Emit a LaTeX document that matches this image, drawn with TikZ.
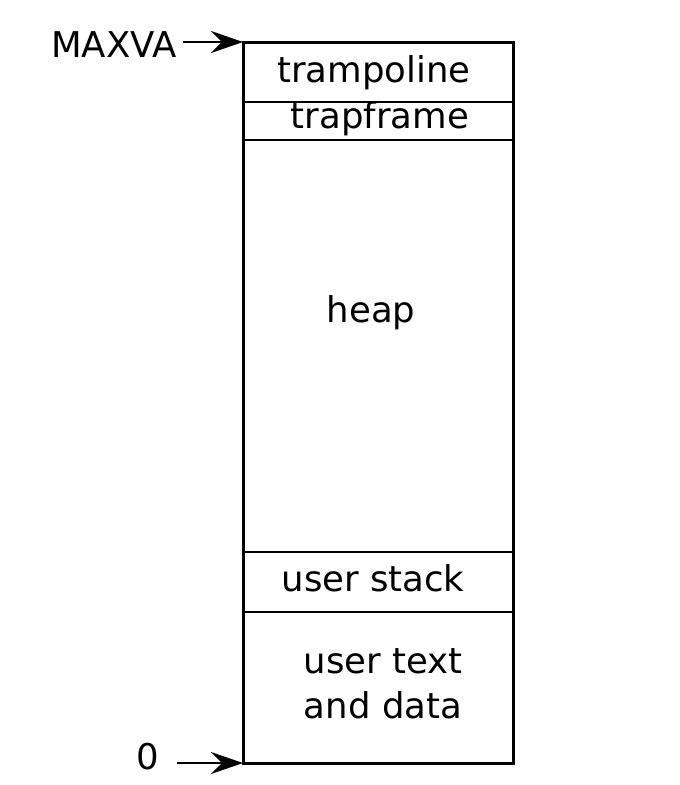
\documentclass[tikz,border=0pt]{standalone}
\usepackage{fontspec}
\setmainfont{DejaVu Sans}
\usetikzlibrary{arrows.meta}
\begin{document}
\begin{tikzpicture}[x=1pt,y=-1pt,
  lbl/.style={font=\fontsize{35.5}{45}\selectfont, inner sep=0pt, align=center},
  outer/.style={line width=3pt},
  divider/.style={line width=1.3pt},
  ptr/.style={line width=1.6pt, -{Stealth[length=32pt,width=22pt,inset=11pt]}}]
\useasboundingbox (0,0) rectangle (680,785);
\coordinate (tl) at (243,42);
\coordinate (br) at (513,763);
\coordinate (bl) at (243,763);
\draw[outer] (tl) rectangle (br);
\draw[divider] (243,102) -- (513,102);
\draw[divider] (243,140) -- (513,140);
\draw[divider] (243,552) -- (513,552);
\draw[divider] (243,612) -- (513,612);
\node[lbl] (tramp) at (374,73) {trampoline};
\node[lbl] (trapf) at (380,119) {trapframe};
\node[lbl] (heap) at (371,313) {heap};
\node[lbl] (stack) at (373,578) {user stack};
\node[lbl] (text) at (383,684) {user text\\and data};
\node[lbl, anchor=east] (maxva) at (177,45) {MAXVA};
\node[lbl] (zero) at (148,757) {0};
\coordinate (mstart) at (183,42);
\coordinate (zstart) at (177,763);
\draw[ptr] (mstart) -- (tl);
\draw[ptr] (zstart) -- (bl);
\end{tikzpicture}
\end{document}
